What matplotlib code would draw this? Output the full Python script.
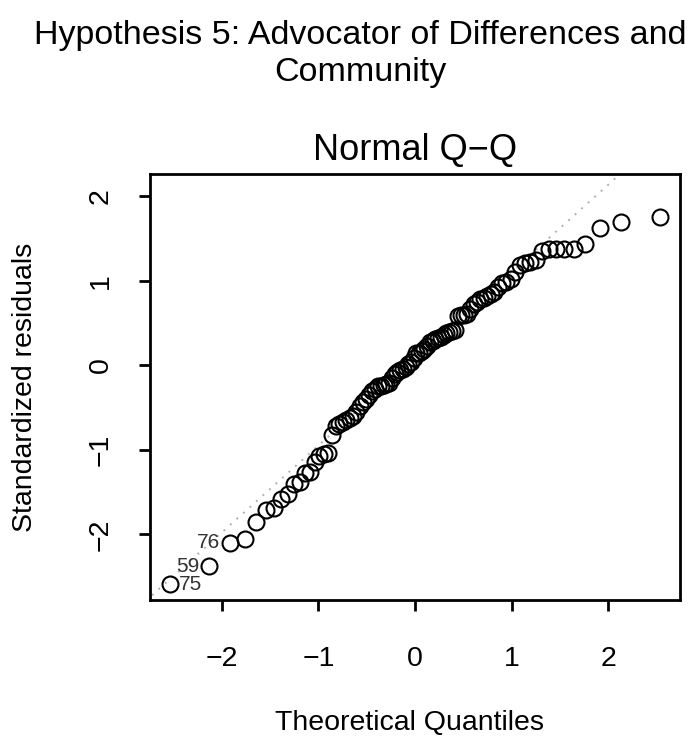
import numpy as np
import matplotlib
matplotlib.use("Agg")
import matplotlib.pyplot as plt
from statistics import NormalDist

plt.rcParams['font.family'] = ['Liberation Sans', 'DejaVu Sans']

# sorted standardized residuals of the model (n = 90)
std_resid = [
    -2.59, -2.38, -2.10, -2.05, -1.85, -1.71, -1.69, -1.58, -1.52, -1.41,
    -1.38, -1.28, -1.26, -1.14, -1.07, -1.05, -1.04, -0.82, -0.72, -0.70,
    -0.67, -0.65, -0.62, -0.60, -0.55, -0.48, -0.44, -0.40, -0.35, -0.31,
    -0.28, -0.25, -0.24, -0.23, -0.22, -0.21, -0.15, -0.10, -0.08, -0.06,
    -0.05, -0.02, 0.01, 0.04, 0.09, 0.14, 0.15, 0.17, 0.19, 0.23,
    0.27, 0.29, 0.31, 0.32, 0.34, 0.36, 0.38, 0.39, 0.41, 0.42,
    0.58, 0.59, 0.60, 0.61, 0.66, 0.73, 0.75, 0.78, 0.80, 0.82,
    0.84, 0.87, 0.93, 0.97, 0.99, 1.02, 1.10, 1.18, 1.21, 1.22,
    1.24, 1.35, 1.37, 1.37, 1.37, 1.38, 1.44, 1.62, 1.70, 1.75,
]
# observation ids of the three most extreme residuals (rank -> id)
flagged_rank = [0, 1, 2]
flagged_id = ["75", "59", "76"]

title = "Hypothesis 5: Advocator of Differences and\nCommunity"
xticks = [-2, -1, 0, 1, 2]
yticks = [-2, -1, 0, 1, 2]

y = np.array(std_resid)
n = len(y)
nd = NormalDist()
# ppoints(n) for n > 10
x = np.array([nd.inv_cdf((i + 0.5) / n) for i in range(n)])

# qqline through the quartiles
yq = np.quantile(y, [0.25, 0.75])
xq = np.array([nd.inv_cdf(0.25), nd.inv_cdf(0.75)])
slope = (yq[1] - yq[0]) / (xq[1] - xq[0])
icept = yq[0] - slope * xq[0]

fig = plt.figure(figsize=(6.88, 7.40), dpi=100)
ax = fig.add_axes([150 / 688, 1 - 600 / 740, 530 / 688, 426 / 740])

xr = x.max() - x.min()
ax.set_xlim(x.min() - 0.04 * xr, x.max() + 0.04 * xr)
ylo, yhi = y.min(), y.max() + 0.075 * (y.max() - y.min())
yr = yhi - ylo
ax.set_ylim(ylo - 0.04 * yr, yhi + 0.04 * yr)

xx = np.array([-4, 4])
ax.plot(xx, icept + slope * xx, color='#b0b0b0', lw=1.4, ls=(0, (1, 3.5)), zorder=1)
ax.plot(x, y, 'o', mfc='none', mec='black', ms=11.5, mew=1.5, zorder=2)

for r, lab in zip(flagged_rank, flagged_id):
    left = x[r] > np.mean([x[flagged_rank].min(), x[flagged_rank].max()])
    off = -7 if left else 7
    ax.annotate(lab, (x[r], y[r]), xytext=(off, 0), textcoords='offset points',
                ha='right' if left else 'left', va='center',
                fontsize=15, color='#333333')

for s in ax.spines.values():
    s.set_linewidth(2)
ax.set_xticks(xticks)
ax.set_yticks(yticks)
ax.set_xticklabels(['\u2212' + str(-t) if t < 0 else str(t) for t in xticks])
ax.set_yticklabels(['\u2212' + str(-t) if t < 0 else str(t) for t in yticks],
                   rotation=90, va='center')
ax.tick_params(axis='both', direction='out', length=8, width=2, labelsize=20.5)
ax.tick_params(axis='x', pad=25)
ax.tick_params(axis='y', pad=18)

fig.text(360 / 688, 1 - 54 / 740, title, ha='center', va='center',
         fontsize=24.5, linespacing=1.25)
ax.set_title("Normal Q\u2212Q", fontsize=26, pad=10)
fig.text(25 / 688, 1 - 387 / 740, "Standardized residuals", rotation=90,
         ha='center', va='center', fontsize=20.5)
fig.text(410 / 688, 1 - 723 / 740, "Theoretical Quantiles",
         ha='center', va='center', fontsize=20.5)

fig.savefig("out.png", dpi=100)
